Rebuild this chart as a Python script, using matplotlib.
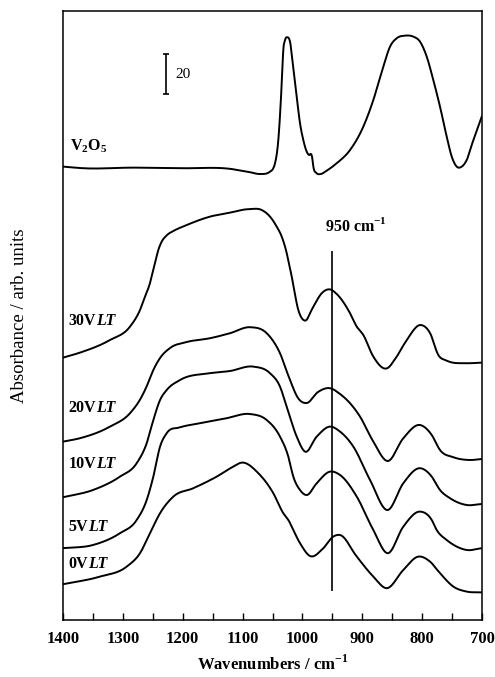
import numpy as np
import matplotlib
matplotlib.use("Agg")
import matplotlib.pyplot as plt

# spectra: wavenumber (cm-1) and offset absorbance
v2o5_w = [1399.5, 1366.1, 1283.1, 1199.0, 1121.0, 1087.6, 1070.9, 1054.2, 1048.7,
          1045.8, 1040.3, 1034.6, 1032.0, 1029.1, 1025.3, 1020.8, 1015.3, 1009.6, 1004.1,
          998.6, 992.9, 988.5, 985.7, 984.0, 981.8, 976.2, 969.5, 959.4, 942.7,
          920.5, 898.3, 881.6, 864.9, 853.7, 842.5, 828.6, 814.8, 803.6, 792.4,
          781.4, 770.2, 759.0, 750.6, 742.3, 733.9, 725.6, 714.5, 700.5]
v2o5_a = [226.7, 225.9, 226.2, 225.9, 225.6, 223.9, 223.0, 224.2, 225.9,
          228.4, 240.0, 268.4, 285.0, 290.0, 291.4, 289.2, 276.7, 261.7, 248.4,
          240.0, 234.2, 232.5, 233.0, 231.7, 226.7, 223.4, 223.0, 224.7, 228.4,
          235.0, 246.7, 260.0, 276.7, 286.7, 290.9, 292.2, 291.7, 289.2, 281.7,
          270.0, 256.7, 241.7, 231.7, 226.7, 226.7, 230.0, 240.0, 251.7]

v30_w = [1400, 1371.6, 1321.5, 1288.1, 1271.4, 1263.0, 1254.7, 1246.3, 1240.8, 1236.3,
         1226.2, 1215.7, 1193.3, 1154.4, 1121.0, 1087.6, 1068.0, 1054.2, 1043.0, 1034.6,
         1029.1, 1017.9, 1006.9, 995.7, 981.8, 967.8, 953.9, 942.7, 920.5, 909.3,
         898.3, 881.6, 859.2, 842.5, 825.8, 802.4, 786.9, 773.0, 759.0, 725.6,
         700.5]
v30_a = [131.2, 133.7, 140.0, 146.7, 155.0, 161.7, 168.4, 178.4, 185.0, 188.5,
         192.5, 194.5, 197.5, 201.7, 203.7, 205.5, 205.0, 201.7, 196.7, 191.7,
         186.7, 171.7, 155.0, 149.7, 156.7, 163.4, 165.3, 163.0, 153.4, 146.7,
         142.5, 131.7, 125.8, 131.7, 140.0, 147.5, 143.5, 132.5, 129.7, 128.4,
         128.7]

v20_w = [1400, 1371.6, 1321.5, 1288.1, 1268.5, 1258.0, 1249.1, 1237.9, 1221.2, 1193.3,
         1154.4, 1121.0, 1087.6, 1059.7, 1037.5, 1020.8, 1007.4, 992.9, 974.0, 953.9,
         937.2, 920.5, 903.8, 881.6, 857.6, 831.5, 803.6, 784.0, 770.2, 747.9,
         720.1, 700.5]
v20_a = [89.2, 90.9, 96.7, 103.4, 111.7, 118.4, 125.0, 131.0, 136.0, 139.0,
         140.9, 143.4, 146.4, 143.4, 133.4, 120.0, 111.0, 108.5, 114.0, 115.9,
         113.0, 108.4, 101.7, 89.2, 79.5, 90.9, 97.5, 92.5, 85.0, 81.4,
         80.0, 80.5]

v10_w = [1400, 1349.9, 1304.8, 1276.9, 1260.2, 1249.1, 1237.9, 1226.8, 1204.5, 1154.4,
         1121.0, 1082.1, 1054.2, 1037.5, 1026.3, 1009.6, 995.7, 976.2, 953.9, 937.2,
         915.0, 887.1, 857.6, 831.5, 803.6, 784.0, 770.2, 753.5, 725.6, 700.5]
v10_a = [61.4, 65.0, 71.7, 78.4, 88.4, 100.0, 110.0, 115.0, 120.0, 123.4,
         124.5, 126.7, 123.4, 116.7, 106.7, 91.7, 84.2, 91.7, 96.7, 94.2,
         86.7, 70.0, 55.0, 68.4, 75.9, 71.7, 65.0, 60.9, 57.5, 58.0]

v5_w = [1400, 1349.9, 1304.8, 1276.9, 1260.2, 1249.1, 1237.9, 1226.8, 1204.5, 1171.1,
        1126.5, 1087.6, 1059.7, 1037.5, 1023.6, 1015.3, 1004.1, 992.9, 976.2, 953.9,
        937.2, 909.3, 881.6, 857.6, 831.5, 803.6, 784.0, 775.7, 759.0, 742.3,
        725.6, 700.5]
v5_a = [35.9, 37.5, 43.4, 50.0, 60.0, 71.7, 86.7, 93.4, 96.3, 98.4,
        100.9, 103.0, 100.0, 91.7, 81.7, 71.7, 65.0, 62.5, 68.4, 74.2,
        72.5, 61.7, 45.0, 33.4, 46.7, 54.2, 50.0, 45.0, 40.0, 36.7,
        35.0, 35.9]

v0_w = [1400, 1338.2, 1293.6, 1271.4, 1254.7, 1237.9, 1215.7, 1182.3, 1143.2, 1115.5,
        1101.5, 1073.7, 1048.7, 1032.0, 1023.6, 1004.1, 987.4, 965.1, 948.5, 937.2,
        909.3, 881.6, 859.2, 831.5, 806.4, 786.9, 770.2, 747.9, 725.6, 700.5]
v0_a = [17.9, 21.7, 26.7, 33.4, 43.4, 53.4, 61.7, 65.9, 71.7, 76.7,
        78.7, 73.4, 63.4, 53.4, 50.0, 38.4, 32.0, 35.9, 41.7, 42.5,
        31.7, 21.7, 15.9, 25.0, 31.7, 29.2, 23.4, 16.7, 14.2, 13.8]

series = [
    (v2o5_w, v2o5_a), (v30_w, v30_a), (v20_w, v20_a),
    (v10_w, v10_a), (v5_w, v5_a), (v0_w, v0_a),
]
samples = ["30V", "20V", "10V", "5V", "0V"]
sample_y = [147.5, 104.2, 75.9, 44.7, 26.2]

marker_w = 950
scale_len = 20


def hermite(w, a, n=25):
    # cubic Hermite through the read points, parabolic (Bessel) slopes
    x = np.asarray(w, float)[::-1]
    y = np.asarray(a, float)[::-1]
    h = np.diff(x)
    d = np.diff(y) / h
    m = np.empty_like(y)
    m[1:-1] = (d[:-1] * h[1:] + d[1:] * h[:-1]) / (h[:-1] + h[1:])
    m[0] = d[0]
    m[-1] = d[-1]
    t = np.linspace(0, 1, n, endpoint=False)
    h00 = 2 * t ** 3 - 3 * t ** 2 + 1
    h10 = t ** 3 - 2 * t ** 2 + t
    h01 = -2 * t ** 3 + 3 * t ** 2
    h11 = t ** 3 - t ** 2
    xs, ys = [], []
    for k in range(len(x) - 1):
        xs.append(x[k] + t * h[k])
        ys.append(h00 * y[k] + h10 * h[k] * m[k] + h01 * y[k + 1] + h11 * h[k] * m[k + 1])
    xs.append([x[-1]])
    ys.append([y[-1]])
    return np.concatenate(xs), np.concatenate(ys)


plt.rcParams['font.family'] = ['Liberation Serif', 'DejaVu Serif']
plt.rcParams['mathtext.fontset'] = 'custom'
plt.rcParams['mathtext.rm'] = 'Liberation Serif:bold'
plt.rcParams['mathtext.bf'] = 'Liberation Serif:bold'

fig = plt.figure(figsize=(4.95, 6.77), dpi=100)
ax = fig.add_axes([0.1273, 0.0842, 0.8465, 0.8995])

for w, a in series:
    xs, ys = hermite(w, a)
    ax.plot(xs, ys, color='black', lw=1.4, solid_joinstyle='round')

# 950 cm-1 marker
ax.vlines(marker_w, 14.7, 184.7, color='black', lw=1.2)
ax.text(marker_w + 12, 197, "950 cm$^{-1}$", fontsize=11.5, fontweight='bold',
        ha='left', va='center')

# scale bar
ax.errorbar([1228], [273], yerr=[scale_len / 2], color='black', lw=1.2,
            capsize=2.5, capthick=1.2)
ax.text(1212, 273, str(scale_len), fontsize=11, ha='left', va='center')

# sample labels
ax.text(1388, 237, "V$_2$O$_5$", fontsize=11.5, fontweight='bold',
        ha='left', va='center')
for name, yy in zip(samples, sample_y):
    t = ax.text(1391, yy, name, fontsize=11.5, fontweight='bold',
                ha='left', va='baseline')
    ax.annotate("LT", xy=(1, 0), xycoords=t, fontsize=11.5, fontweight='bold',
                fontstyle='italic', ha='left', va='bottom')

ax.set_xlim(1400, 700)
ax.set_ylim(0, 304.5)
ax.set_xticks(np.arange(1400, 699, -100))
ax.set_xticks(np.arange(1350, 700, -100), minor=True)
ax.set_yticks([])
ax.tick_params(axis='x', which='both', direction='in', length=5, width=1.0,
               labelsize=12, pad=8)
for lab in ax.get_xticklabels():
    lab.set_fontweight('bold')
for sp in ax.spines.values():
    sp.set_linewidth(1.1)

ax.set_xlabel("Wavenumbers / cm$^{-1}$", fontsize=12, fontweight='bold', labelpad=5)
ax.set_ylabel("Absorbance / arb. units", fontsize=13.5, labelpad=25)

fig.savefig("out.png", dpi=100)
